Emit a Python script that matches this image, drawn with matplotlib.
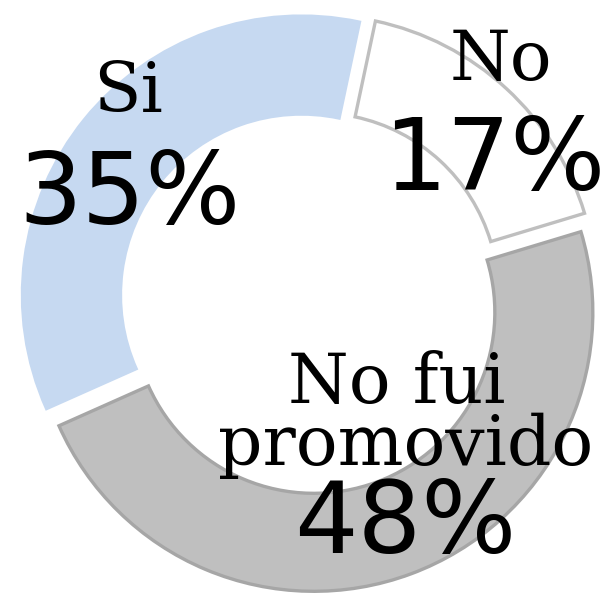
"""
Dona: ¿Fue promovido? — Si / No fui promovido / No
"""
import matplotlib
matplotlib.use("Agg")
import matplotlib.pyplot as plt

# ── datos ─────────────────────────────────────────────────────────────────────
labels = ["Si", "No fui promovido", "No"]
values = [35, 48, 17]
colors = ["#c6d9f1", "#bfbfbf", "#ffffff"]
edges  = ["#c6d9f1", "#a6a6a6", "#bfbfbf"]

W, H = 604, 598
fig = plt.figure(figsize=(W / 100, H / 100), dpi=100)
ax = fig.add_axes([0, 0, 1, 1])

# pixel-like data coords (y up)
cx, cy, R = 310, 296, 279
wedges, _ = ax.pie(values, colors=colors, startangle=78, counterclock=True,
                   center=(cx, cy), radius=R, explode=[11, 11, 11],
                   wedgeprops=dict(width=98, linewidth=2.4))
for w, ec in zip(wedges, edges):
    w.set_edgecolor(ec)
    w.set_joinstyle("miter")

ax.set_xlim(0, W)
ax.set_ylim(0, H)
ax.set_aspect("equal")
ax.axis("off")

# ── etiquetas ─────────────────────────────────────────────────────────────────
name_kw = dict(family="DejaVu Serif", fontsize=50, ha="center", va="baseline")
pct_kw  = dict(family="DejaVu Sans", fontsize=72, ha="center", va="baseline")

ax.text(128, H - 112, "Si", **name_kw)
ax.text(129, H - 224, f"{values[0]}%", **pct_kw)

ax.text(501, H - 80, "No", **name_kw)
ax.text(494, H - 190, f"{values[2]}%", **pct_kw)

ax.text(397, H - 403, "No fui", **name_kw)
ax.text(406, H - 465, "promovido", **name_kw)
ax.text(405, H - 553, f"{values[1]}%", **pct_kw)

fig.savefig("out.png", dpi=100)
